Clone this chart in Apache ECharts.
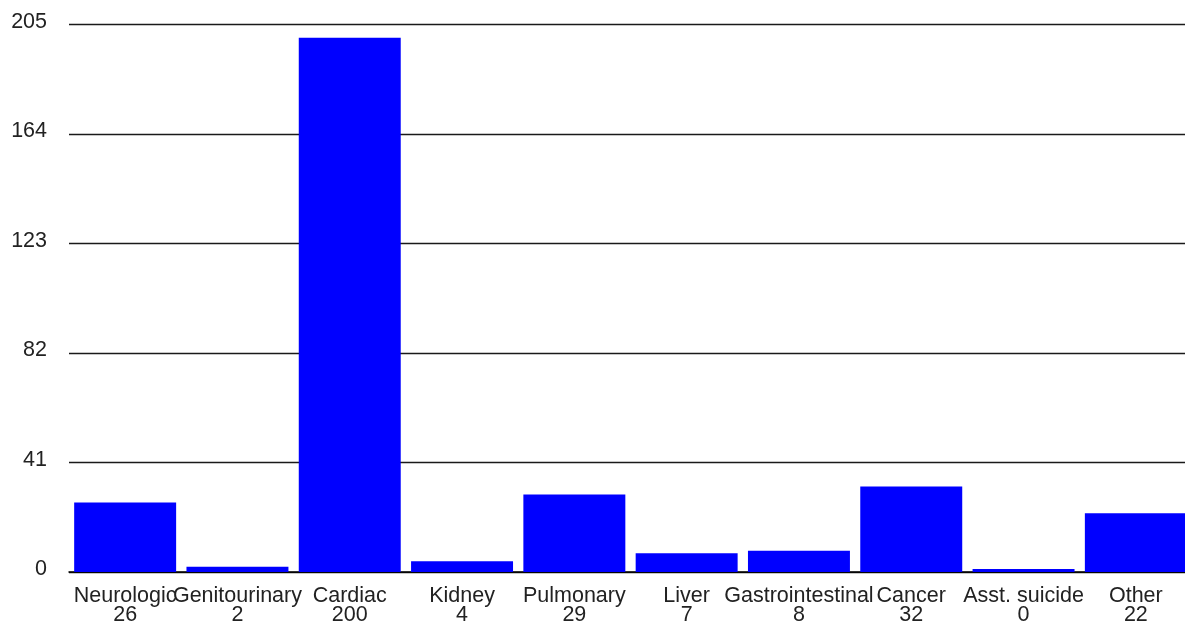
<!DOCTYPE html>
<html>
<head>
<meta charset="utf-8">
<script src="https://cdn.jsdelivr.net/npm/echarts@6/dist/echarts.min.js"></script>
<style>
html,body{margin:0;padding:0;background:#fff;overflow:hidden;}
#chart{width:1192px;height:629px;}
</style>
</head>
<body>
<div id="chart"></div>
<script>
const categories = ["Neurologic","Genitourinary","Cardiac","Kidney","Pulmonary","Liver","Gastrointestinal","Cancer","Asst. suicide","Other"];
const values = [26,2,200,4,29,7,8,32,0,22];
const yMax = 205;
const yInterval = 41;

const chart = echarts.init(document.getElementById('chart'), null, {renderer:'canvas'});
chart.setOption({
  animation:false,
  backgroundColor:'#ffffff',
  grid:{left:69, right:0, top:24.5, bottom:57, containLabel:false},
  xAxis:{
    type:'category',
    data:categories,
    axisLine:{show:true, lineStyle:{color:'#000', width:1.5}},
    axisTick:{show:false},
    splitLine:{show:false},
    axisLabel:{
      interval:0,
      margin:15,
      fontFamily:'Liberation Sans, Arial, sans-serif',
      fontSize:21.5,
      lineHeight:19,
      color:'#222',
      formatter:function(v, i){ return v + '\n' + values[i]; }
    }
  },
  yAxis:{
    type:'value',
    min:0, max:yMax, interval:yInterval,
    axisLine:{show:false},
    axisTick:{show:false},
    splitLine:{show:true, lineStyle:{color:'#1a1a1a', width:1.4}},
    axisLabel:{
      margin:22,
      fontFamily:'Liberation Sans, Arial, sans-serif',
      fontSize:21.5,
      color:'#222',
      verticalAlign:'bottom',
      lineHeight:5
    }
  },
  series:[{
    type:'bar',
    data:values,
    barCategoryGap:'9.2%',
    barMinHeight:3,
    itemStyle:{color:'#0000ff'}
  }]
});
</script>
</body>
</html>
